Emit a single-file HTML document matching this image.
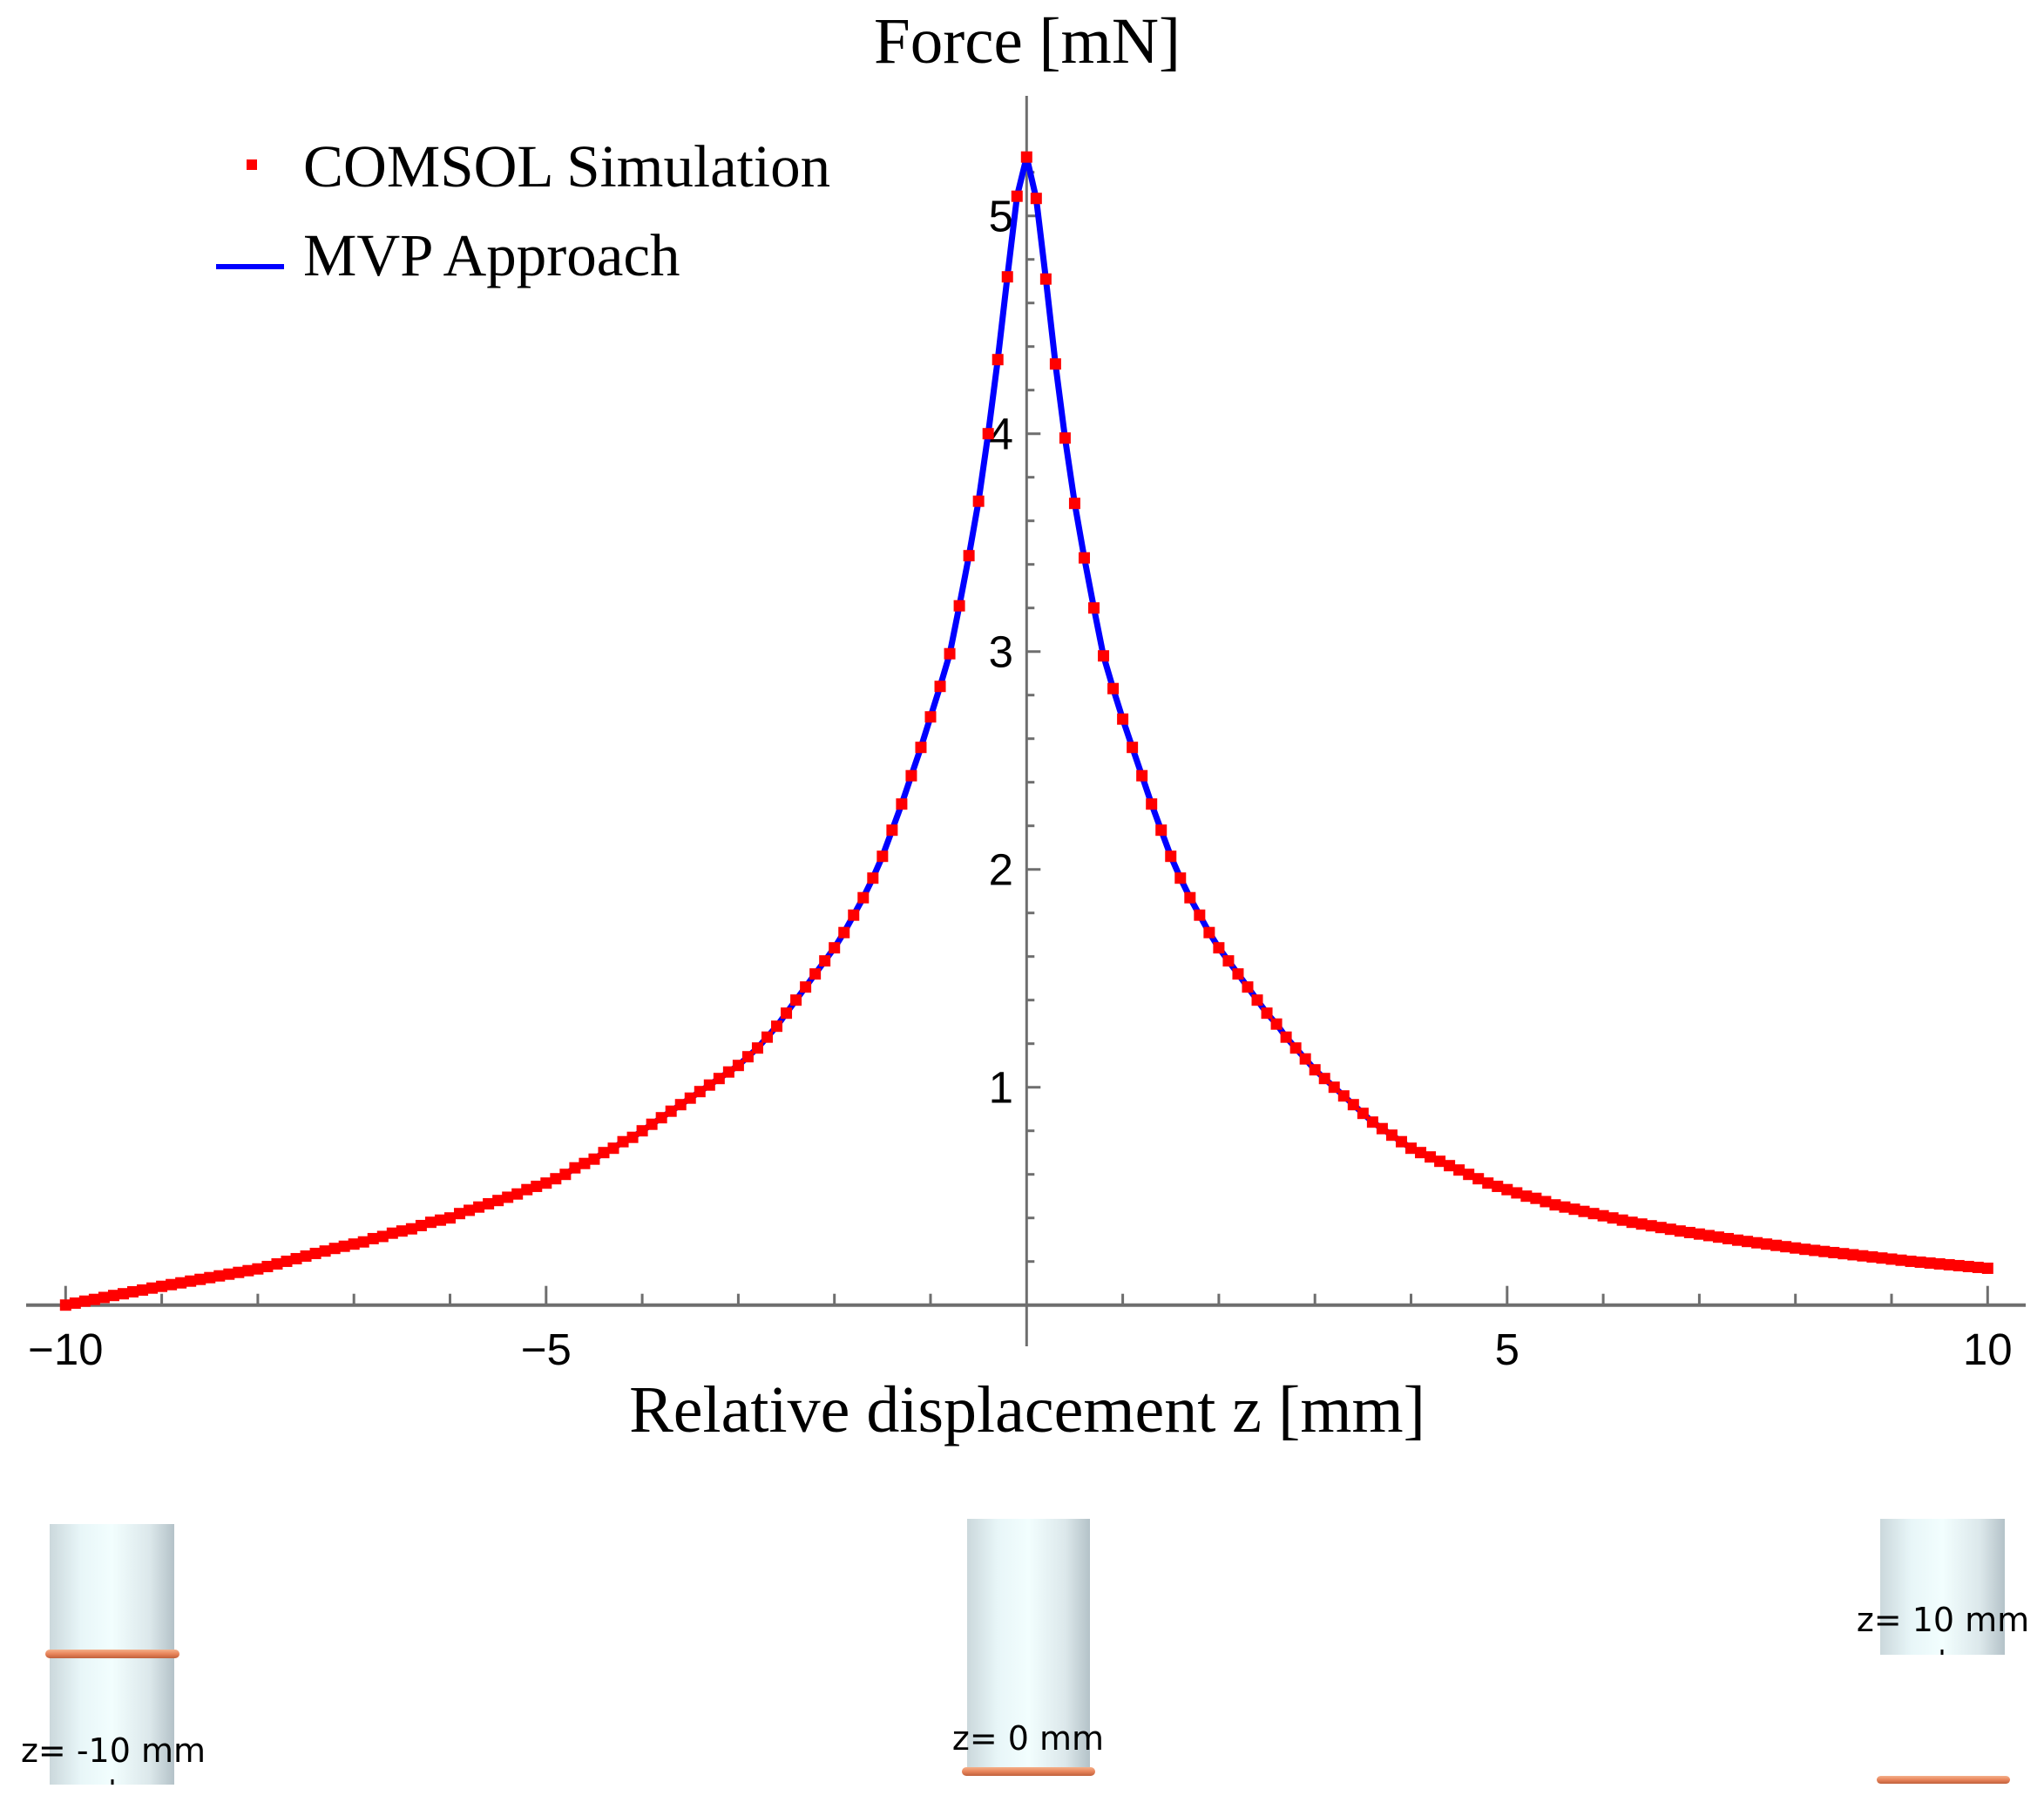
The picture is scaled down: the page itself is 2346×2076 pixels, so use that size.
<!DOCTYPE html>
<html><head><meta charset="utf-8"><style>
html,body{margin:0;padding:0;background:#fff;}
svg{display:block;}
.serif{font-family:"Liberation Serif",serif;}
.sans{font-family:"Liberation Sans",sans-serif;}
.dv{font-family:"DejaVu Sans","Liberation Sans",sans-serif;}
</style></head><body>
<svg id="chart" width="2346" height="2076" viewBox="0 0 2346 2076" xmlns="http://www.w3.org/2000/svg">
<defs>
<linearGradient id="cyl" x1="0" x2="1" y1="0" y2="0">
<stop offset="0" stop-color="#cbd8dc"/><stop offset="0.25" stop-color="#e8f6f8"/><stop offset="0.5" stop-color="#f2fefe"/><stop offset="0.8" stop-color="#dce8eb"/><stop offset="1" stop-color="#b4c2c8"/>
</linearGradient>
<linearGradient id="ring" x1="0" x2="0" y1="0" y2="1">
<stop offset="0" stop-color="#f4b08a"/><stop offset="0.5" stop-color="#e8845a"/><stop offset="1" stop-color="#c0603c"/>
</linearGradient>
</defs>
<g id="axes"></g>
<g id="series"></g>
<text class="serif" x="1179" y="72" font-size="75" text-anchor="middle">Force [mN]</text>
<text class="serif" x="1179" y="1643" font-size="76" text-anchor="middle">Relative displacement z [mm]</text>
<g>
<rect x="283" y="183" width="12" height="12" fill="#ff0000"/>
<text class="serif" x="348" y="214" font-size="69">COMSOL Simulation</text>
<line x1="248" y1="306" x2="326" y2="306" stroke="#0000ff" stroke-width="6"/>
<text class="serif" x="348" y="316" font-size="69">MVP Approach</text>
</g>
<g>
<rect x="57" y="1749" width="143" height="299" fill="url(#cyl)"/>
<rect x="52" y="1893" width="154" height="10" rx="5" fill="url(#ring)"/>
<line x1="129" y1="2042" x2="129" y2="2048" stroke="#000" stroke-width="3"/>
<text class="dv" x="130" y="2022" font-size="38" text-anchor="middle">z= -10 mm</text>
</g>
<g>
<rect x="1110" y="1743" width="141" height="293" fill="url(#cyl)"/>
<rect x="1104" y="2028" width="153" height="10" rx="5" fill="url(#ring)"/>
<text class="dv" x="1180" y="2008" font-size="38" text-anchor="middle">z= 0 mm</text>
</g>
<g>
<rect x="2158" y="1743" width="143" height="156" fill="url(#cyl)"/>
<line x1="2229" y1="1893" x2="2229" y2="1899" stroke="#000" stroke-width="3"/>
<rect x="2154" y="2038" width="153" height="9" rx="4.5" fill="url(#ring)"/>
<text class="dv" x="2230" y="1872" font-size="38" text-anchor="middle">z= 10 mm</text>
</g>
</svg>
<script>
const xTickMajor = [-10, -5, 5, 10];
const xTickLabels = ["\u221210", "\u22125", "5", "10"];
const yTickMajor = [1, 2, 3, 4, 5];
const yTickLabels = ["1", "2", "3", "4", "5"];
// force values for z = 0, 0.1, ..., 10
const rightForce = [5.27,5.08,4.71,4.32,3.98,3.68,3.43,3.20,2.98,2.83,2.69,2.56,2.43,2.30,2.18,2.06,1.96,1.87,1.79,1.71,1.64,1.58,1.52,1.46,1.40,1.34,1.29,1.23,1.18,1.13,1.08,1.04,1.00,0.96,0.92,0.88,0.84,0.81,0.78,0.75,0.72,0.70,0.68,0.66,0.64,0.62,0.60,0.58,0.56,0.545,0.53,0.515,0.50,0.49,0.475,0.46,0.45,0.44,0.43,0.42,0.41,0.40,0.39,0.38,0.372,0.364,0.356,0.348,0.34,0.333,0.326,0.319,0.312,0.305,0.298,0.292,0.286,0.28,0.274,0.268,0.262,0.256,0.251,0.246,0.241,0.236,0.231,0.226,0.221,0.216,0.211,0.206,0.201,0.197,0.193,0.189,0.185,0.181,0.177,0.173,0.169];
// force values for z = -0.1, -0.2, ..., -10
const leftForce = [5.09,4.72,4.34,4.00,3.69,3.44,3.21,2.99,2.84,2.70,2.56,2.43,2.30,2.18,2.06,1.96,1.87,1.79,1.71,1.64,1.58,1.52,1.46,1.40,1.34,1.28,1.23,1.18,1.14,1.10,1.07,1.04,1.01,0.98,0.95,0.92,0.89,0.86,0.83,0.80,0.77,0.75,0.72,0.70,0.67,0.65,0.63,0.60,0.58,0.56,0.545,0.53,0.51,0.495,0.48,0.465,0.45,0.435,0.42,0.40,0.39,0.38,0.365,0.35,0.34,0.33,0.315,0.305,0.29,0.28,0.27,0.26,0.248,0.237,0.225,0.213,0.201,0.189,0.177,0.166,0.158,0.150,0.142,0.134,0.126,0.118,0.110,0.102,0.094,0.086,0.078,0.069,0.061,0.052,0.044,0.035,0.026,0.018,0.009,0.0];
const zStep = 0.1;

const NS = "http://www.w3.org/2000/svg";
const X0 = 1178.3, XS = 110.3, Y0 = 1497.7, YS = 250;
function sx(v){ return X0 + v*XS; }
function sy(v){ return Y0 - v*YS; }
function mk(tag, attrs, parent){ const e=document.createElementNS(NS,tag); for(const k in attrs) e.setAttribute(k,attrs[k]); parent.appendChild(e); return e; }

const axes = document.getElementById('axes');
const series = document.getElementById('series');
const G = "#6e6e6e";
const xa = mk('line',{x1:30,x2:2325,y1:Y0,y2:Y0,stroke:G,'stroke-width':4},axes);


const ya = mk('line',{x1:sx(0),x2:sx(0),y1:110,y2:1545,stroke:G,'stroke-width':3},axes);


for(let i=-10;i<=10;i++){
  if(i===0) continue;
  const major = xTickMajor.indexOf(i)>=0;
  const t = mk('line',{x1:sx(i),x2:sx(i),y1:Y0,y2:Y0-(major?22:13),stroke:G,'stroke-width':3},axes);
  
  
}
xTickMajor.forEach((v,i)=>{
  const t = mk('text',{x:sx(v),y:1566,'font-size':51,'text-anchor':'middle',class:'sans'},axes);
  t.textContent = xTickLabels[i];
  
  
});
for(let k=1;k<=26;k++){
  const v = k*0.2;
  const major = Math.abs(v-Math.round(v))<1e-6;
  const t = mk('line',{x1:sx(0),x2:sx(0)+(major?16:9),y1:sy(v),y2:sy(v),stroke:G,'stroke-width':3},axes);
  
  
}
yTickMajor.forEach((v,i)=>{
  const t = mk('text',{x:1163,y:sy(v)+18,'font-size':51,'text-anchor':'end',class:'sans'},axes);
  t.textContent = yTickLabels[i];
  
  
});
const pts = [];
for(let i=leftForce.length-1;i>=0;i--) pts.push([-(i+1)*zStep, leftForce[i]]);
rightForce.forEach((f,i)=>pts.push([i*zStep, f]));
const d = pts.map((p,i)=>(i?'L':'M')+sx(p[0]).toFixed(1)+' '+sy(p[1]).toFixed(1)).join(' ');
const line = mk('path',{d:d,fill:'none',stroke:'#0000ff','stroke-width':7,'stroke-linejoin':'round'},series);


pts.forEach(p=>{
  const r = mk('rect',{x:sx(p[0])-6.5,y:sy(p[1])-6.5,width:13,height:13,fill:'#ff0000'},series);
  
  
});
</script>
</body></html>
